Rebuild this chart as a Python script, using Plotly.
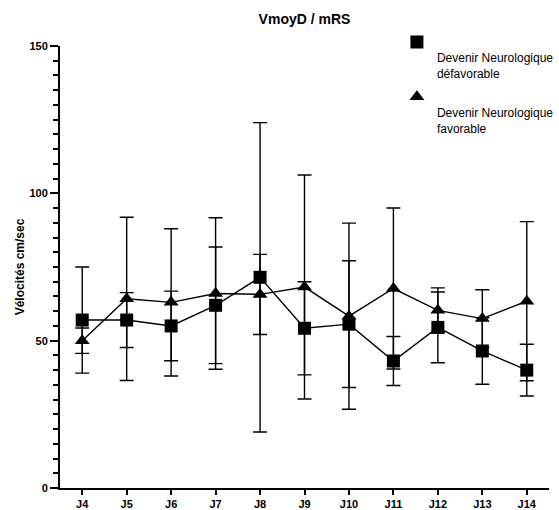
import plotly.graph_objects as go

categories = ["J4", "J5", "J6", "J7", "J8", "J9", "J10", "J11", "J12", "J13", "J14"]
defav_mean = [57, 57, 55, 62, 71.5, 54.2, 55.6, 43.1, 54.5, 46.5, 40]
defav_err = [18, 9.3, 11.8, 19.8, 52.5, 15.8, 21.5, 8.3, 12, 11.3, 8.8]
fav_mean = [50, 64.2, 63, 66, 65.7, 68.2, 58.3, 67.7, 60.3, 57.5, 63.4]
fav_err = [4.3, 27.7, 25, 25.7, 13.6, 38, 31.6, 27.3, 7.6, 9.8, 27]
y_ticks = [0, 50, 100, 150]

FONT = "Liberation Sans, Arial, sans-serif"
LW = 1.4

fig = go.Figure()
# connecting lines (no legend)
fig.add_trace(go.Scatter(x=categories, y=defav_mean, mode="lines", showlegend=False,
                         line=dict(color="black", width=LW), hoverinfo="skip"))
fig.add_trace(go.Scatter(x=categories, y=fav_mean, mode="lines", showlegend=False,
                         line=dict(color="black", width=LW), hoverinfo="skip"))
# markers with error bars
fig.add_trace(go.Scatter(
    x=categories, y=defav_mean, mode="markers", legendgroup="a",
    name="<br>Devenir Neurologique<br>défavorable",
    marker=dict(symbol="square", size=13, color="black"),
    error_y=dict(type="data", array=defav_err, visible=True, color="black", thickness=LW, width=7),
))
fig.add_trace(go.Scatter(
    x=categories, y=fav_mean, mode="markers", legendgroup="b",
    name="<br>Devenir Neurologique<br>favorable",
    marker=dict(symbol="triangle-up", size=13, color="black"),
    error_y=dict(type="data", array=fav_err, visible=True, color="black", thickness=LW, width=7),
))

fig.update_layout(
    width=559, height=510,
    margin=dict(l=60, r=0, t=46, b=20),
    paper_bgcolor="white", plot_bgcolor="white",
    font=dict(family=FONT, color="black"),
    title=dict(text="VmoyD / mRS", x=0.5, xref="paper", y=1, yref="container",
               yanchor="top", pad=dict(t=14), font=dict(size=14, weight="bold")),
    showlegend=True,
    legend=dict(x=0.689, y=1.0413, xanchor="left", yanchor="top", font=dict(size=12),
                bgcolor="rgba(0,0,0,0)", itemwidth=30, valign="top", tracegroupgap=5),
    xaxis=dict(
        type="category", range=[-0.5, 10.5],
        showline=True, linecolor="black", linewidth=2,
        ticks="outside", ticklen=5, tickwidth=1.5, tickcolor="black",
        tickfont=dict(size=11, family=FONT, weight="bold"), showgrid=False, zeroline=False,
    ),
    yaxis=dict(
        range=[0, 150], tickvals=y_ticks,
        showline=True, linecolor="black", linewidth=2,
        ticks="outside", ticklen=8, tickwidth=1.5, tickcolor="black",
        minor=dict(dtick=5, ticks="outside", ticklen=5, tickwidth=1.5, tickcolor="black", showgrid=False),
        tickfont=dict(size=11, family=FONT, weight="bold"), showgrid=False, zeroline=False,
        title=dict(text="Vélocités cm/sec", font=dict(size=12, weight="bold"), standoff=2),
    ),
)

fig.write_html("out.html")
